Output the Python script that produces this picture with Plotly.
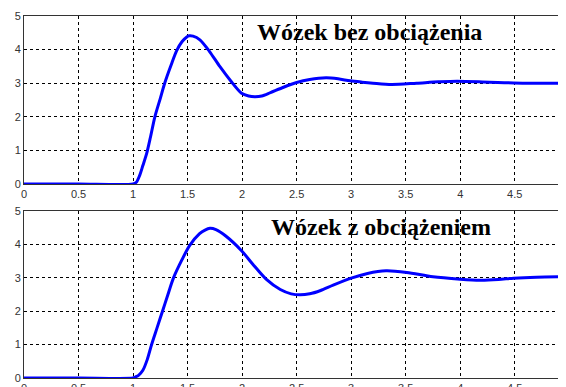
import plotly.graph_objects as go

# Top: Wózek bez obciążenia
t1 = [0, 0.5, 1.0, 1.03, 1.06, 1.09, 1.125, 1.16, 1.2, 1.25, 1.29, 1.35, 1.40, 1.45, 1.49, 1.515, 1.55, 1.613, 1.70, 1.797, 1.90, 1.995, 2.06, 2.117, 2.18, 2.26, 2.38, 2.5, 2.62, 2.77, 2.88, 2.99, 3.1, 3.2, 3.37, 3.6, 3.8, 3.97, 4.27, 4.6, 4.97]
y1 = [0, 0, 0, 0.05, 0.25, 0.55, 0.91, 1.4, 2.0, 2.55, 3.0, 3.55, 3.97, 4.24, 4.37, 4.41, 4.4, 4.29, 3.95, 3.49, 3.05, 2.70, 2.62, 2.60, 2.62, 2.72, 2.88, 3.02, 3.11, 3.16, 3.13, 3.07, 3.03, 3.0, 2.96, 3.0, 3.04, 3.06, 3.03, 3.0, 3.0]

# Bottom: Wózek z obciążeniem
t2 = [0, 0.5, 1.0, 1.02, 1.05, 1.09, 1.13, 1.17, 1.22, 1.27, 1.32, 1.37, 1.45, 1.52, 1.61, 1.66, 1.705, 1.76, 1.85, 1.995, 2.1, 2.22, 2.35, 2.45, 2.53, 2.62, 2.72, 2.835, 3.0, 3.15, 3.32, 3.51, 3.75, 4.0, 4.18, 4.35, 4.49, 4.7, 4.97]
y2 = [0, 0, 0, 0.03, 0.08, 0.23, 0.55, 1.0, 1.5, 2.0, 2.5, 2.99, 3.55, 3.97, 4.32, 4.43, 4.48, 4.44, 4.25, 3.81, 3.40, 2.96, 2.65, 2.52, 2.49, 2.52, 2.62, 2.78, 2.99, 3.13, 3.21, 3.16, 3.03, 2.96, 2.93, 2.95, 2.99, 3.02, 3.03]

x_ticks = [0, 0.5, 1, 1.5, 2, 2.5, 3, 3.5, 4, 4.5, 5]
x_tick_text = ["0", "0.5", "1", "1.5", "2", "2.5", "3", "3.5", "4", "4.5", "5"]
y_ticks = [0, 1, 2, 3, 4, 5]
titles = ["Wózek bez obciążenia", "Wózek z obciążeniem"]

# page has an 8px body margin; figure is sized to end at the window edge
OFF = 8
W, H = 566 - OFF, 387 - OFF
fig = go.Figure()
fig.add_trace(go.Scatter(x=t1, y=y1, mode="lines", line=dict(color="#0000ff", width=3, shape="spline", smoothing=0.8),
                         xaxis="x", yaxis="y", showlegend=False))
fig.add_trace(go.Scatter(x=t2, y=y2, mode="lines", line=dict(color="#0000ff", width=3, shape="spline", smoothing=0.8),
                         xaxis="x2", yaxis="y2", showlegend=False))

def px_to_dom(top_px, bottom_px):
    top_px -= OFF
    bottom_px -= OFF
    return [(H - bottom_px) / H, (H - top_px) / H]

axis_common = dict(showgrid=True, gridcolor="#000000", griddash="dot", gridwidth=1,
                   showline=True, linecolor="#333333", linewidth=1, mirror=True,
                   ticks="", zeroline=False,
                   tickfont=dict(family="Liberation Sans, Arial, sans-serif", size=11, color="#333333"))

fig.update_layout(
    width=W, height=H,
    margin=dict(l=24 - OFF, r=0, t=0, b=0, autoexpand=False),
    paper_bgcolor="white", plot_bgcolor="white",
    xaxis=dict(domain=[0, 1], range=[0, 4.97], tickvals=x_ticks, ticktext=x_tick_text, anchor="y", **axis_common),
    yaxis=dict(domain=px_to_dom(16, 184), range=[0, 5], tickvals=y_ticks, anchor="x", **axis_common),
    xaxis2=dict(domain=[0, 1], range=[0, 4.97], tickvals=x_ticks, ticktext=x_tick_text, anchor="y2", **axis_common),
    yaxis2=dict(domain=px_to_dom(211, 378), range=[0, 5], tickvals=y_ticks, anchor="x2", **axis_common),
    annotations=[
        dict(text="<b>" + titles[0] + "</b>", xref="x", yref="y", x=3.17, y=4.52, showarrow=False,
             font=dict(family="Liberation Serif, Times New Roman, serif", size=24, color="black")),
        dict(text="<b>" + titles[1] + "</b>", xref="x2", yref="y2", x=3.27, y=4.52, showarrow=False,
             font=dict(family="Liberation Serif, Times New Roman, serif", size=24, color="black")),
    ],
)

fig.write_html("out.html")
